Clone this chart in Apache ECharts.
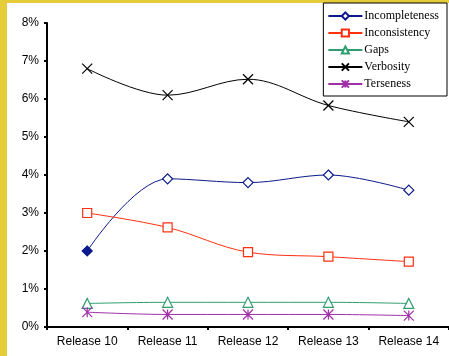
<!DOCTYPE html>
<html>
<head>
<meta charset="utf-8">
<script src="https://cdn.jsdelivr.net/npm/echarts@6/dist/echarts.min.js"></script>
<style>
  html, body { margin: 0; padding: 0; }
  #chart { width: 449px; height: 356px; }
</style>
</head>
<body>
<div id="chart"></div>
<script>
// Release categories along the x axis
const releases = ['Release 10', 'Release 11', 'Release 12', 'Release 13', 'Release 14'];

// Share of defects per release, in percent
const incompleteness = [2.0, 3.9, 3.8, 4.0, 3.6];
const inconsistency = [3.0, 2.62, 1.97, 1.85, 1.72];
const gaps = [0.62, 0.65, 0.65, 0.65, 0.62];
const verbosity = [6.8, 6.1, 6.52, 5.83, 5.4];
const terseness = [0.39, 0.33, 0.33, 0.33, 0.3];

// y axis range and step (percent)
const yMin = 0, yMax = 8, yStep = 1;

const crossPath = 'path://M0,0L10,10M10,0L0,10';
const starPath = 'path://M0,0L10,10M10,0L0,10M5,0L5,10';

function line(name, data, color, symbol, size) {
  return {
    name: name,
    type: 'line',
    data: data,
    smooth: 0.35,
    symbol: symbol,
    symbolSize: size,
    showSymbol: true,
    lineStyle: { color: color, width: 1 },
    itemStyle: { color: '#fff', borderColor: color, borderWidth: 1.2 },
    emphasis: { disabled: true }
  };
}

const series = [
  line('Incompleteness', incompleteness, '#0a1a8c', 'diamond', 10),
  line('Inconsistency', inconsistency, '#ff3010', 'rect', 9),
  line('Gaps', gaps, '#2e9e6e', 'triangle', 10),
  line('Verbosity', verbosity, '#000000', crossPath, 10),
  line('Terseness', terseness, '#a030a8', starPath, 10)
];
// first Incompleteness point is drawn solid
series[0].data = incompleteness.map((v, i) => i === 0
  ? { value: v, itemStyle: { color: '#0a1a8c' } }
  : v);
series[3].itemStyle.color = '#000';
series[4].itemStyle.color = '#a030a8';

const chart = echarts.init(document.getElementById('chart'), null, { renderer: 'canvas' });
chart.setOption({
  animation: false,
  backgroundColor: '#e5cc38',
  graphic: [
    { type: 'rect', z: -10, left: 7, top: 3, shape: { width: 442, height: 353 }, style: { fill: '#ffffff' }, silent: true }
  ],
  grid: { left: 47, top: 23, right: 0, bottom: 29, containLabel: false },
  legend: {
    orient: 'vertical',
    right: 2,
    top: 3,
    backgroundColor: '#fff',
    borderColor: '#000',
    borderWidth: 1,
    padding: [7, 8, 6, 4],
    itemWidth: 34,
    itemHeight: 9,
    itemGap: 5,
    textStyle: { fontFamily: 'Liberation Serif', fontSize: 12, color: '#000', padding: [0, 0, 0, -3] },
    data: ['Incompleteness', 'Inconsistency', 'Gaps', 'Verbosity', 'Terseness']
  },
  xAxis: {
    type: 'category',
    data: releases,
    boundaryGap: true,
    axisLine: { lineStyle: { color: '#000', width: 2 } },
    axisTick: { show: true, length: 3, lineStyle: { color: '#000', width: 2 } },
    axisLabel: { color: '#000', fontFamily: 'Liberation Sans', fontSize: 12, margin: 9 }
  },
  yAxis: {
    type: 'value',
    min: yMin,
    max: yMax,
    interval: yStep,
    axisLine: { show: true, lineStyle: { color: '#000', width: 2 } },
    axisTick: { show: true, length: 3, lineStyle: { color: '#000', width: 2 } },
    splitLine: { show: false },
    axisLabel: { color: '#000', fontFamily: 'Liberation Sans', fontSize: 12, margin: 8, formatter: '{value}%' }
  },
  series: series
});
</script>
</body>
</html>
